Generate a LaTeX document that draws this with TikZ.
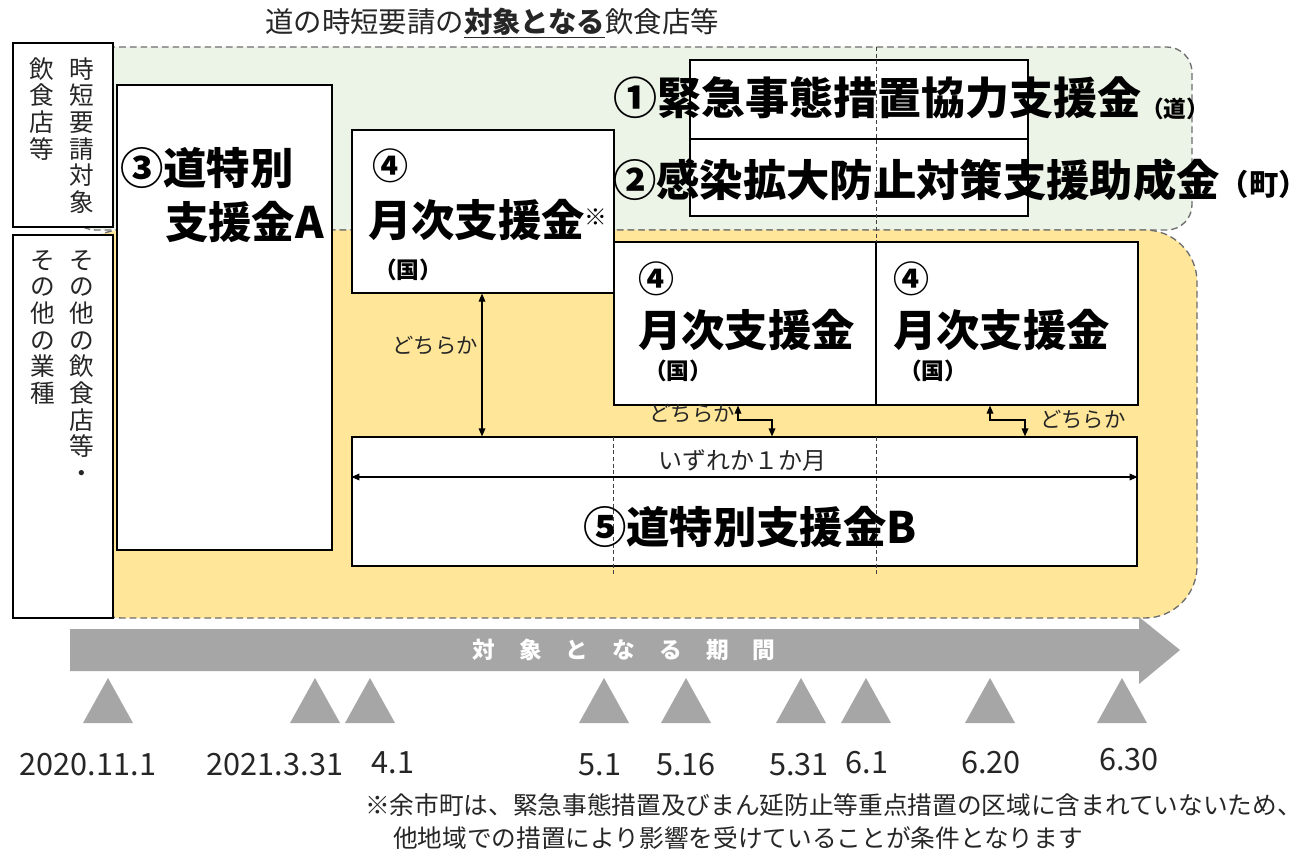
\documentclass[tikz,border=0pt]{standalone}
\usepackage{fontspec}
\setmainfont{Noto Sans CJK JP}
\usetikzlibrary{arrows.meta,fit}
\definecolor{grn}{RGB}{236,243,231}
\definecolor{ylw}{RGB}{255,230,153}
\definecolor{dashgray}{RGB}{110,110,110}
\definecolor{arrgray}{RGB}{166,166,166}
\tikzset{
  box/.style={draw=black, line width=0.9pt, fill=white, inner sep=0pt},
  region/.style={draw=dashgray, dash pattern=on 5pt off 3pt, line width=1pt},
  divline/.style={draw=black!75, dash pattern=on 3pt off 2pt, line width=0.6pt},
  bigtxt/.style={font=\fontsize{32.5}{36}\selectfont\bfseries, inner sep=0pt},
  midtxt/.style={font=\fontsize{17}{20}\selectfont\bfseries, inner sep=0pt},
  numtxt/.style={font=\fontsize{27}{30}\selectfont\bfseries, inner sep=0pt},
  smalltxt/.style={font=\fontsize{16}{18}\selectfont, inner sep=0pt, text=black!85},
  vt/.style={font=\fontsize{18.5}{20}\selectfont, align=center, inner sep=0pt, anchor=north, text=black!85},
  datetxt/.style={font=\fontsize{23}{26}\selectfont, inner sep=0pt, text=black!85},
  notetxt/.style={font=\fontsize{18.5}{20}\selectfont, inner sep=0pt, anchor=west, text=black!85},
  dbl/.style={{Triangle[length=6pt,width=5pt]}-{Triangle[length=6pt,width=5pt]}, line width=0.9pt},
  tri/.style={fill=arrgray}
}
\begin{document}
\begin{tikzpicture}[x=0.75pt,y=-0.75pt]
\useasboundingbox (0,0) rectangle (1306,852);
\fill[white] (0,0) rectangle (1306,852);

% title
\node[font=\fontsize{21.3}{24}\selectfont, anchor=west, inner sep=0pt, text=black!85] (title) at (265,23)
  {道の時短要請の\underline{\textbf{対象となる}}飲食店等};

% regions
\path[region, fill=grn, rounded corners=19pt] (70,47) rectangle (1192,230);
\path[region, fill=ylw, rounded corners=39pt] (70,230) rectangle (1197,618);

% left boxes
\node[box, fit={(13,43)(113,227)}] (L1) {};
\node[box, fit={(13,235)(113,618)}] (L2) {};
\node[vt] (L1a) at (82,57) {時\\短\\要\\請\\対\\象};
\node[vt] (L1b) at (42,57) {飲\\食\\店\\等};
\node[vt] (L2a) at (82,250) {そ\\の\\他\\の\\飲\\食\\店\\等\\・};
\node[vt] (L2b) at (43,250) {そ\\の\\他\\の\\業\\種};

% main boxes
\node[box, fit={(117,85)(332,550)}] (A) {};
\node[box, fit={(352,130)(614,293)}] (M1) {};
\node[box, fit={(690,60)(1028,139)}] (K1) {};
\node[box, fit={(690,139)(1028,216)}] (K2) {};
\node[box, fit={(614,242)(876,405)}] (M2) {};
\node[box, fit={(876,242)(1138,405)}] (M3) {};
\node[box, fit={(352,437)(1137,566)}] (B) {};

% dashed dividers
\coordinate (d1top) at (876,47);
\coordinate (d1bot) at (876,242);
\draw[divline] (d1top) -- (d1bot);
\coordinate (d2top) at (613,437);
\coordinate (d2bot) at (613,575);
\coordinate (d3top) at (876,437);
\coordinate (d3bot) at (876,575);
\draw[divline] (d2top) -- (d2bot);
\draw[divline] (d3top) -- (d3bot);

% texts in boxes
\node[bigtxt, anchor=west] (Aa) at (120,168) {③道特別};
\node[bigtxt, anchor=west] (Ab) at (165,222) {支援金A};

\node[numtxt] (M1n) at (390,166) {④};
\node[bigtxt, anchor=west] (M1t) at (368,220) {月次支援金\raisebox{8pt}{\fontsize{17}{18}\selectfont\mdseries ※}};
\node[midtxt] (M1k) at (408,270) {（国）};

\node[numtxt] (M2n) at (656,279) {④};
\node[bigtxt, anchor=west] (M2t) at (638,330) {月次支援金};
\node[midtxt] (M2k) at (678,371) {（国）};

\node[numtxt] (M3n) at (911,279) {④};
\node[bigtxt, anchor=west] (M3t) at (893,330) {月次支援金};
\node[midtxt] (M3k) at (933,371) {（国）};

\node[font=\fontsize{33}{36}\selectfont\bfseries, anchor=west, inner sep=0pt] (K1t) at (613,98)
  {①緊急事態措置協力支援金\raisebox{-2pt}{\fontsize{17}{18}\selectfont （道）}};
\node[font=\fontsize{32.5}{36}\selectfont\bfseries, anchor=west, inner sep=0pt] (K2t) at (613,180)
  {②感染拡大防止対策支援助成金\raisebox{1pt}{\fontsize{22}{24}\selectfont （町）}};

\node[font=\fontsize{18}{20}\selectfont, inner sep=0pt, text=black!85] (Bm) at (742,461) {いずれか１か月};
\node[bigtxt] (Bt) at (750,527) {⑤道特別支援金B};

% arrows
\coordinate (x482) at (482,0);
\draw[dbl] (M1.south -| x482) -- (B.north -| x482);
\node[smalltxt, anchor=east] (w1) at (478,346) {どちらか};

\coordinate (x738) at (738,0);
\coordinate (x772) at (772,0);
\coordinate (y420) at (0,420);
\coordinate (y477) at (0,477);
\draw[dbl] (M2.south -| x738) -- (x738 |- y420) -- (x772 |- y420) -- (B.north -| x772);
\node[smalltxt, anchor=east] (w2) at (735,414) {どちらか};

\coordinate (x990) at (990,0);
\coordinate (x1025) at (1025,0);
\draw[dbl] (M3.south -| x990) -- (x990 |- y420) -- (x1025 |- y420) -- (B.north -| x1025);
\node[smalltxt, anchor=west] (w3) at (1040,420) {どちらか};

\draw[dbl] (B.west |- y477) -- (B.east |- y477);

% period arrow
\fill[arrgray] (70,629) -- (1139,629) -- (1139,617) -- (1180,650) -- (1139,684) -- (1139,671) -- (70,671) -- cycle;
\node[font=\fontsize{17}{20}\selectfont\bfseries, text=white, inner sep=0pt] (per) at (624,650)
  {対\hspace{18pt}象\hspace{18pt}と\hspace{18pt}な\hspace{18pt}る\hspace{18pt}期\hspace{18pt}間};

% triangles
\foreach \x in {108,315,370,604,686,801,866,990,1122}
  \fill[tri] (\x-25,723) -- (\x,678) -- (\x+25,723) -- cycle;

% dates
\node[datetxt] (t1) at (88,765) {2020.11.1};
\node[datetxt] (t2) at (275,765) {2021.3.31};
\node[datetxt] (t3) at (393,763) {4.1};
\node[datetxt] (t4) at (600,765) {5.1};
\node[datetxt] (t5) at (686,765) {5.16};
\node[datetxt] (t6) at (799,765) {5.31};
\node[datetxt] (t7) at (867,763) {6.1};
\node[datetxt] (t8) at (991,763) {6.20};
\node[datetxt] (t9) at (1129,760) {6.30};

% footnote
\node[notetxt] (n1) at (365,805) {※余市町は、緊急事態措置及びまん延防止等重点措置の区域に含まれていないため、};
\node[notetxt] (n2) at (393,838) {他地域での措置により影響を受けていることが条件となります};
\end{tikzpicture}
\end{document}
